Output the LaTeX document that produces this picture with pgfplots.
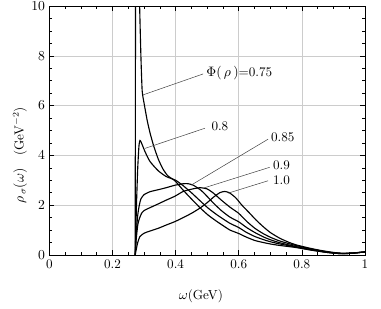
\documentclass[border=0pt]{standalone}
\usepackage{pgfplots}
\pgfplotsset{compat=1.18}
\begin{document}
\begin{tikzpicture}
\begin{axis}[
  name=ax,
  scale only axis,
  width=252.6pt, height=199.2pt,
  xmin=0, xmax=1, ymin=0, ymax=10,
  xtick={0,0.2,0.4,0.6,0.8,1},
  xticklabels={0,0.2,0.4,0.6,0.8,1},
  ytick={0,2,4,6,8,10},
  minor x tick num=3, minor y tick num=3,
  grid=major,
  major grid style={gray!40, line width=0.45pt},
  tick style={black, line width=0.4pt},
  major tick length=4pt, minor tick length=2.5pt,
  axis line style={line width=0.6pt},
  xlabel={$\omega$(GeV)},
  ylabel={$\rho_{\,\sigma}(\omega)$\quad(GeV$^{-2}$)},
  xlabel style={at={(axis description cs:0.48,-0.165)}, anchor=center},
  ylabel style={at={(axis description cs:-0.093,0.40)}, anchor=center},
  clip=true,
  font=\fontsize{10.5}{12}\selectfont,
]
% Phi = 0.75
\addplot[black, no markers, line width=0.9pt, smooth, tension=0.35] coordinates {(0.272,0) (0.2725,6) (0.2735,12) (0.278,16) (0.283,12) (0.286,10) (0.29,8) (0.294,6.6) (0.30,6.1) (0.31,5.4) (0.319,4.9) (0.33,4.4) (0.345,3.85) (0.36,3.45) (0.375,3.18) (0.39,3.05) (0.40,2.95) (0.424,2.6) (0.45,2.25) (0.477,1.9) (0.503,1.6) (0.53,1.35) (0.55,1.18) (0.572,1.0) (0.60,0.86) (0.625,0.71) (0.651,0.58) (0.677,0.5) (0.70,0.44) (0.73,0.38) (0.78,0.3) (0.83,0.19) (0.88,0.1) (0.925,0.05) (0.96,0.07) (1.0,0.12)};
% Phi = 0.8
\addplot[black, no markers, line width=0.9pt, smooth, tension=0.35] coordinates {(0.272,0) (0.276,2) (0.28,3.5) (0.284,4.4) (0.287,4.6) (0.29,4.55) (0.295,4.4) (0.303,4.15) (0.319,3.75) (0.345,3.38) (0.37,3.15) (0.40,3.0) (0.424,2.78) (0.45,2.5) (0.477,2.18) (0.503,1.88) (0.53,1.62) (0.55,1.45) (0.572,1.27) (0.60,1.1) (0.625,0.9) (0.651,0.74) (0.677,0.62) (0.70,0.53) (0.73,0.44) (0.78,0.32) (0.83,0.2) (0.88,0.1) (0.925,0.05) (0.96,0.07) (1.0,0.12)};
% Phi = 0.85
\addplot[black, no markers, line width=0.9pt, smooth, tension=0.35] coordinates {(0.272,0) (0.275,0.8) (0.28,1.6) (0.285,2.0) (0.29,2.25) (0.30,2.42) (0.319,2.54) (0.345,2.62) (0.37,2.7) (0.398,2.8) (0.424,2.86) (0.44,2.86) (0.456,2.8) (0.48,2.6) (0.50,2.35) (0.52,2.08) (0.545,1.78) (0.572,1.52) (0.60,1.33) (0.625,1.1) (0.651,0.9) (0.677,0.73) (0.70,0.61) (0.73,0.49) (0.78,0.34) (0.83,0.21) (0.88,0.11) (0.925,0.05) (0.96,0.07) (1.0,0.12)};
% Phi = 0.9
\addplot[black, no markers, line width=0.9pt, smooth, tension=0.35] coordinates {(0.272,0) (0.275,0.6) (0.28,1.2) (0.285,1.45) (0.292,1.67) (0.30,1.78) (0.314,1.87) (0.345,2.05) (0.37,2.2) (0.398,2.36) (0.424,2.55) (0.45,2.64) (0.477,2.7) (0.50,2.65) (0.52,2.48) (0.545,2.2) (0.572,1.92) (0.60,1.67) (0.625,1.35) (0.651,1.07) (0.677,0.86) (0.70,0.71) (0.73,0.56) (0.78,0.38) (0.83,0.24) (0.88,0.12) (0.925,0.06) (0.96,0.07) (1.0,0.12)};
% Phi = 1.0
\addplot[black, no markers, line width=0.9pt, smooth, tension=0.35] coordinates {(0.272,0) (0.275,0.2) (0.28,0.5) (0.287,0.74) (0.30,0.87) (0.314,0.94) (0.345,1.07) (0.37,1.2) (0.398,1.34) (0.424,1.5) (0.45,1.67) (0.477,1.88) (0.50,2.1) (0.52,2.32) (0.54,2.5) (0.555,2.55) (0.57,2.5) (0.59,2.3) (0.61,2.0) (0.635,1.67) (0.655,1.4) (0.677,1.14) (0.70,0.9) (0.73,0.67) (0.76,0.5) (0.783,0.4) (0.825,0.27) (0.86,0.18) (0.90,0.1) (0.93,0.07) (0.96,0.08) (1.0,0.12)};
% annotations
\draw[black!75, line width=0.4pt] (axis cs:0.297,6.43) -- (axis cs:0.487,7.27);
\draw[black!75, line width=0.4pt] (axis cs:0.303,4.28) -- (axis cs:0.493,5.09);
\draw[black!75, line width=0.4pt] (axis cs:0.45,2.81) -- (axis cs:0.693,4.65);
\draw[black!75, line width=0.4pt] (axis cs:0.487,2.68) -- (axis cs:0.698,3.52);
\draw[black!75, line width=0.4pt] (axis cs:0.566,2.48) -- (axis cs:0.693,2.98);
\node[anchor=west, inner sep=1pt] at (axis cs:0.493,7.32) {$\Phi(\,\rho\,)$=0.75};
\node[anchor=west, inner sep=1pt] at (axis cs:0.509,5.15) {0.8};
\node[anchor=west, inner sep=1pt] at (axis cs:0.698,4.73) {0.85};
\node[anchor=west, inner sep=1pt] at (axis cs:0.704,3.61) {0.9};
\node[anchor=west, inner sep=1pt] at (axis cs:0.704,2.98) {1.0};
\end{axis}
\pgfresetboundingbox
\path ([xshift=-39.5pt,yshift=-43.2pt]ax.south west) rectangle ([xshift=12.8pt,yshift=4.8pt]ax.north east);
\end{tikzpicture}
\end{document}
